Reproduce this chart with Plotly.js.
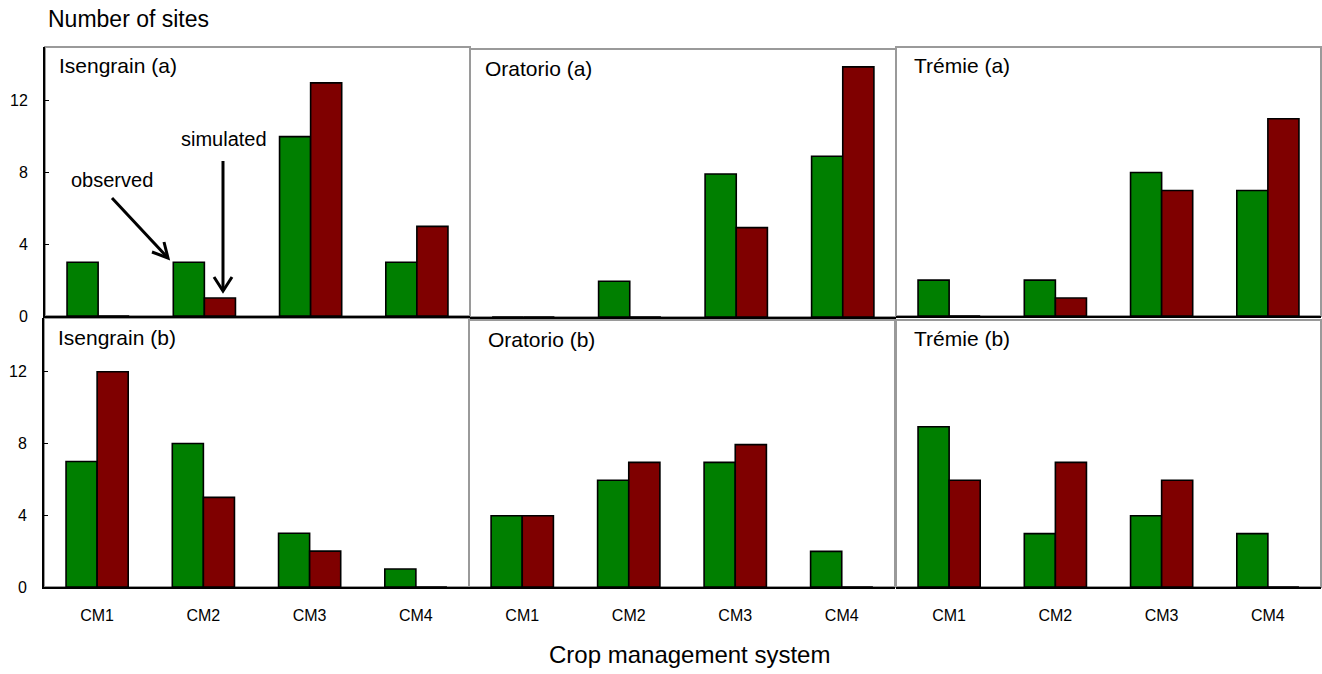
<!DOCTYPE html>
<html>
<head>
<meta charset="utf-8">
<script src="https://cdn.plot.ly/plotly-3.0.1.min.js"></script>
<style>html,body{margin:0;padding:0;background:#fff;}#chart{width:1322px;height:674px;}</style>
</head>
<body>
<div id="chart"></div>
<script>
// ---- data ----
const categories = ["CM1", "CM2", "CM3", "CM4"];
const panelTitles = ["Isengrain (a)", "Oratorio (a)", "Trémie (a)", "Isengrain (b)", "Oratorio (b)", "Trémie (b)"];
const isengrainA_obs = [3, 3, 10, 3];
const isengrainA_sim = [0, 1, 13, 5];
const oratorioA_obs = [0, 2, 8, 9];
const oratorioA_sim = [0, 0, 5, 14];
const tremieA_obs = [2, 2, 8, 7];
const tremieA_sim = [0, 1, 7, 11];
const isengrainB_obs = [7, 8, 3, 1];
const isengrainB_sim = [12, 5, 2, 0];
const oratorioB_obs = [4, 6, 7, 2];
const oratorioB_sim = [4, 7, 8, 0];
const tremieB_obs = [9, 3, 4, 3];
const tremieB_sim = [6, 7, 6, 0];
const yTicks = [0, 4, 8, 12];

const observed = [isengrainA_obs, oratorioA_obs, tremieA_obs, isengrainB_obs, oratorioB_obs, tremieB_obs];
const simulated = [isengrainA_sim, oratorioA_sim, tremieA_sim, isengrainB_sim, oratorioB_sim, tremieB_sim];

// ---- layout helpers (pixel -> paper) ----
const W = 1322, H = 674;
const px = x => x / W;
const py = y => 1 - y / H;

// panel boxes in pixels: [left, top, right, bottom]
const boxes = [
  [45, 47, 470, 316],
  [470, 49, 896, 317],
  [896, 47, 1321, 316],
  [44, 318, 469, 587],
  [469, 320, 895, 587],
  [896, 320, 1321, 587]
];
const titlePos = [[57, 66], [483, 68], [912, 66], [56, 337], [486, 339], [912, 338]];

const FONT = "Liberation Sans, Arial, Helvetica, sans-serif";
const GREEN = "#007f00", RED = "#7f0000";

const traces = [];
const layout = {
  width: W, height: H,
  margin: {l: 0, r: 0, t: 0, b: 0},
  paper_bgcolor: "#ffffff", plot_bgcolor: "rgba(0,0,0,0)",
  showlegend: false,
  barmode: "group", bargap: 0.415, bargroupgap: 0,
  font: {family: FONT, color: "#000"},
  shapes: [], annotations: []
};

boxes.forEach((b, i) => {
  const n = i + 1;
  const xa = n === 1 ? "x" : "x" + n;
  const ya = n === 1 ? "y" : "y" + n;
  const leftCol = (i % 3 === 0);
  const bottomRow = i >= 3;
  traces.push({
    type: "bar", x: categories, y: observed[i], xaxis: xa, yaxis: ya, name: "observed",
    marker: {color: GREEN, line: {color: "#000", width: 1.6}}, hoverinfo: "x+y"
  });
  traces.push({
    type: "bar", x: categories, y: simulated[i], xaxis: xa, yaxis: ya, name: "simulated",
    marker: {color: RED, line: {color: "#000", width: 1.6}}, hoverinfo: "x+y"
  });
  layout["xaxis" + (n === 1 ? "" : n)] = {
    domain: [px(b[0]), px(b[2])], anchor: ya,
    type: "category", range: [-0.5, 3.5],
    showline: true, linecolor: "#000", linewidth: 2,
    showgrid: false, zeroline: false, ticks: "",
    showticklabels: bottomRow, tickfont: {size: 16, family: FONT, color: "#000"},
    ticklabelstandoff: 13, fixedrange: true
  };
  layout["yaxis" + (n === 1 ? "" : n)] = {
    domain: [py(b[3]), py(b[1])], anchor: xa,
    range: [0, 15], tickvals: yTicks,
    showline: leftCol, linecolor: "#000", linewidth: 2,
    showgrid: false, zeroline: false,
    ticks: leftCol ? "inside" : "", ticklen: 4, tickcolor: "#000", tickwidth: 1,
    showticklabels: leftCol, tickfont: {size: 16, family: FONT, color: "#000"},
    ticklabelstandoff: 12, fixedrange: true
  };
  layout.shapes.push({
    type: "rect", xref: "paper", yref: "paper", layer: "below",
    x0: px(b[0]), x1: px(b[2]), y0: py(b[3]), y1: py(b[1]),
    line: {color: "#9a9a9a", width: 2}, fillcolor: "rgba(0,0,0,0)"
  });
  layout.annotations.push({
    xref: "paper", yref: "paper", x: px(titlePos[i][0]), y: py(titlePos[i][1]),
    xanchor: "left", yanchor: "middle", showarrow: false,
    text: panelTitles[i], font: {size: 21, family: FONT, color: "#000"}
  });
});

// overall axis labels
layout.annotations.push({
  xref: "paper", yref: "paper", x: px(46), y: py(19), xanchor: "left", yanchor: "middle",
  showarrow: false, text: "Number of sites", font: {size: 23, family: FONT, color: "#000"}
});
layout.annotations.push({
  xref: "paper", yref: "paper", x: px(689), y: py(654), xanchor: "center", yanchor: "middle",
  showarrow: false, text: "Crop management system", font: {size: 24, family: FONT, color: "#000"}
});
// observed / simulated callouts
layout.annotations.push({
  xref: "paper", yref: "paper", x: px(112), y: py(180), xanchor: "center", yanchor: "middle",
  showarrow: false, text: "observed", font: {size: 20, family: FONT, color: "#000"}
});
layout.annotations.push({
  xref: "paper", yref: "paper", x: px(224), y: py(139), xanchor: "center", yanchor: "middle",
  showarrow: false, text: "simulated", font: {size: 20, family: FONT, color: "#000"}
});
function pth(pts) {
  return pts.map((p, k) => (k ? "L" : "M") + px(p[0]).toFixed(5) + "," + py(p[1]).toFixed(5)).join(" ");
}
const arrowStyle = {color: "#000", width: 3};
layout.shapes.push({type: "path", xref: "paper", yref: "paper", path: pth([[112, 198], [168, 258]]), line: arrowStyle});
layout.shapes.push({type: "path", xref: "paper", yref: "paper", path: pth([[152, 252], [168, 258], [164, 242]]), line: arrowStyle});
layout.shapes.push({type: "path", xref: "paper", yref: "paper", path: pth([[223, 161], [223, 291]]), line: arrowStyle});
layout.shapes.push({type: "path", xref: "paper", yref: "paper", path: pth([[214, 277], [223, 291], [232, 277]]), line: arrowStyle});

Plotly.newPlot("chart", traces, layout, {displayModeBar: false, staticPlot: true});
</script>
</body>
</html>
